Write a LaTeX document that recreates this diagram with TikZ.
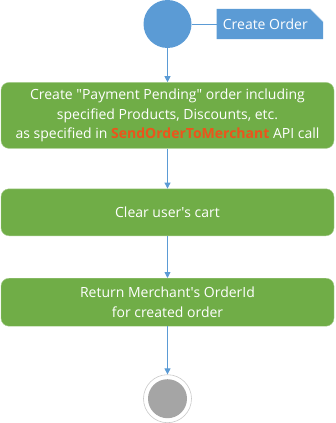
\documentclass[tikz,border=0pt]{standalone}
\usepackage{fontspec}
\setmainfont{Open Sans}
\usetikzlibrary{positioning, calc, arrows.meta}
\definecolor{flowblue}{RGB}{91, 155, 213}
\definecolor{stepgreen}{RGB}{112, 173, 71}
\definecolor{endgray}{RGB}{165, 165, 165}
\definecolor{apiorange}{RGB}{236, 84, 28}
\begin{document}
\begin{tikzpicture}[
      x=1pt, y=1pt,
      node distance=34pt,
      font=\fontsize{14}{19.5}\selectfont,
      initial/.style={circle, fill=flowblue, minimum size=48pt, inner sep=0pt},
      final/.style={circle, draw=endgray!60, fill=white, line width=0.6pt, minimum size=48pt, inner sep=0pt},
      action/.style={rectangle, rounded corners=8pt, fill=stepgreen, draw=stepgreen!60!white, line width=0.4pt,
        text=white, align=center, minimum width=333pt, inner sep=0pt},
      notebox/.style={rectangle, text=white, minimum width=106pt, minimum height=30pt, inner sep=0pt, font=\fontsize{14}{16}\selectfont},
      flowedge/.style={-{Triangle[length=6pt, width=6pt]}, line width=0.8pt, draw=flowblue},
      noteedge/.style={line width=0.8pt, draw=flowblue}
    ]
      \useasboundingbox (0,0) rectangle (335,-423);

      % Nodes
      \node[initial] (start) at (167.5,-24) {};
      \node[notebox, right=25pt of start] (note) {};
      \node[action, minimum height=66pt, below=34pt of start] (create) {Create \textquotedbl Payment Pending\textquotedbl{} order including\\
        specified Products, Discounts, etc.\\
        as specified in {\bfseries\color{apiorange}SendOrderToMerchant} API call};
      \node[action, minimum height=47pt, below=40pt of create] (clear) {Clear user\textquotesingle s cart};
      \node[action, minimum height=48pt, below=42pt of clear] (return) {Return Merchant\textquotesingle s OrderId\\for created order};
      \node[final, below=48pt of return] (finish) {};
      \fill[endgray] (finish) circle (19.5pt);

      % Note with folded corner
      \fill[flowblue] (note.south west) -- (note.north west) -- ($(note.north east)+(-13pt,0)$)
        -- ($(note.north east)+(0,-13pt)$) -- (note.south east) -- cycle;
      \draw[flowblue!40, line width=0.4pt] ($(note.north east)+(-13pt,0)$) -- ($(note.north east)+(0,-13pt)$);
      \node[notebox, anchor=west, minimum width=0pt] (notetext) at ([xshift=6pt]note.west) {Create Order};

      % Edges
      \draw[noteedge] (start) -- (note);
      \draw[flowedge] (start) -- (create);
      \draw[flowedge] (create) -- (clear);
      \draw[flowedge] (clear) -- (return);
      \draw[flowedge] (return) -- (finish);
    \end{tikzpicture}
\end{document}
